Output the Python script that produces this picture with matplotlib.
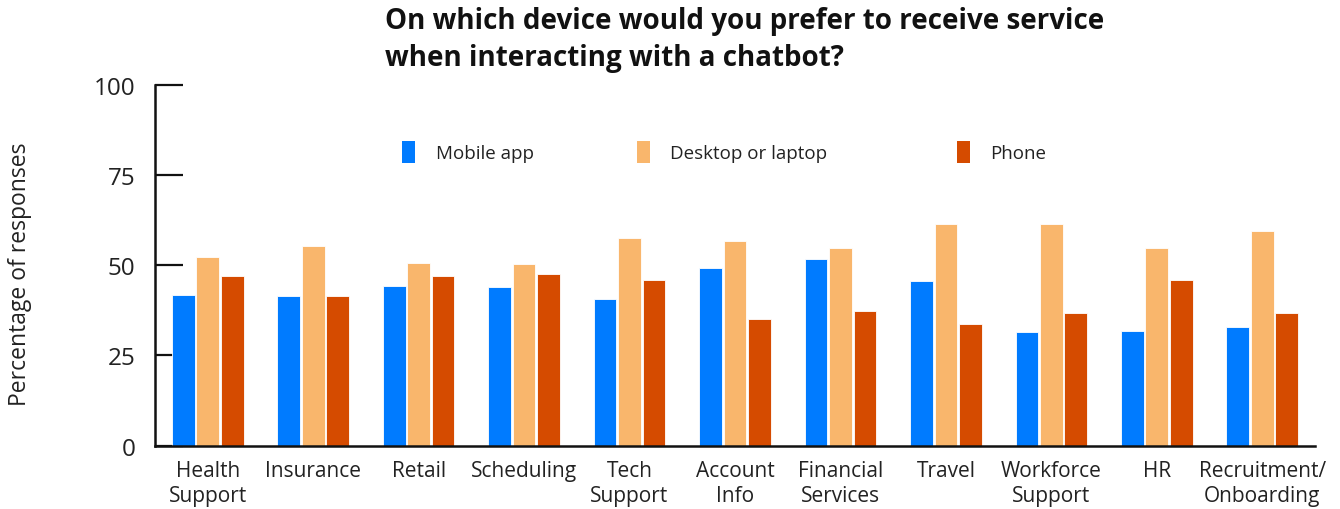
import matplotlib
matplotlib.use("Agg")
import matplotlib.pyplot as plt
import numpy as np
from matplotlib.patches import Patch

plt.rcParams['font.family'] = ['Open Sans', 'DejaVu Sans']

categories = ["Health\nSupport", "Insurance", "Retail", "Scheduling", "Tech\nSupport",
              "Account\nInfo", "Financial\nServices", "Travel", "Workforce\nSupport", "HR",
              "Recruitment/\nOnboarding"]
mobile_app = [41.8, 41.5, 44.3, 44.1, 40.7, 49.1, 51.6, 45.6, 31.6, 31.9, 33.0]
desktop = [52.2, 55.2, 50.5, 50.2, 57.6, 56.8, 54.8, 61.4, 61.3, 54.8, 59.4]
phone = [47.0, 41.4, 47.0, 47.5, 46.0, 35.2, 37.2, 33.6, 36.7, 46.0, 36.8]
series_names = ["Mobile app", "Desktop or laptop", "Phone"]
series_colors = ["#007BFF", "#F9B66C", "#D54B00"]
y_ticks = [0, 25, 50, 75, 100]

fig = plt.figure(figsize=(13.4, 5.1), dpi=100)
ax = fig.add_axes([155 / 1340, 0.124, (1315 - 155) / 1340, 0.832 - 0.124])

x = np.arange(len(categories))
width = 0.215
offsets = [-0.232, 0.0, 0.232]
for vals, off, col in zip([mobile_app, desktop, phone], offsets, series_colors):
    ax.bar(x + off, vals, width, color=col, edgecolor="#ffffff", linewidth=0.6, zorder=2)

ax.set_xlim(-0.5, len(categories) - 0.5)
ax.set_ylim(0, 100)
ax.set_yticks(y_ticks)
ax.set_yticklabels([str(t) for t in y_ticks], fontsize=17.5, color="#222222")
ax.set_xticks(x)
ax.set_xticklabels(categories, fontsize=15, color="#222222", linespacing=1.3)
ax.tick_params(axis='x', length=0, pad=10)
ax.tick_params(axis='y', direction='in', length=20, width=1.6, pad=14, color="#111111")

for side in ["top", "right"]:
    ax.spines[side].set_visible(False)
for side in ["left", "bottom"]:
    ax.spines[side].set_linewidth(1.8)
    ax.spines[side].set_color("#111111")
    ax.spines[side].set_zorder(3)

fig.text(20 / 1340, 1 - 274 / 510, "Percentage of responses", rotation=90,
         fontsize=16.5, color="#222222", ha="center", va="center")

fig.text(385 / 1340, 1 - 40 / 510,
         "On which device would you prefer to receive service\nwhen interacting with a chatbot?",
         fontsize=20, fontweight="bold", color="#111111", ha="left", va="center",
         linespacing=1.35)

# legend entries spread across the upper part of the plot
legend_x = [398, 633, 953]
for name, col, lx in zip(series_names, series_colors, legend_x):
    leg = fig.legend(handles=[Patch(facecolor=col, edgecolor="none")], labels=[name],
                     loc="center left", bbox_to_anchor=(lx / 1340, 1 - 153 / 510),
                     frameon=False, fontsize=13.5, handlelength=0.7, handleheight=1.35,
                     handletextpad=1.1, borderpad=0.2, borderaxespad=0)
    for t in leg.get_texts():
        t.set_color("#222222")

fig.savefig("out.png", dpi=100, facecolor="white")
